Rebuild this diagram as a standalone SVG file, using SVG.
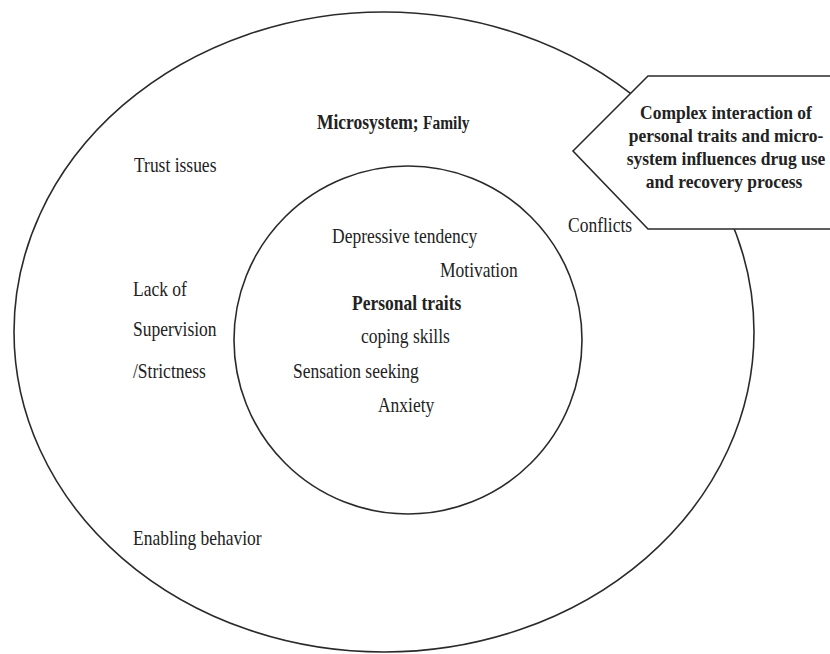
<svg xmlns="http://www.w3.org/2000/svg" width="830" height="654" viewBox="0 0 830 654">
<style>
.ln{fill:none;stroke:#2a2a2a;stroke-width:1.6}
.t{font-family:"Liberation Serif","Times New Roman",serif;font-size:17.5px;fill:#222}
.b{font-weight:bold}
.c{text-anchor:middle}
</style>
<rect width="830" height="654" fill="#fff"/>
<g id="microsystem">
<ellipse class="ln" cx="384" cy="332" rx="370" ry="320"/>
<text class="t b" x="317" y="0" transform="matrix(1 0 0 1.15 0 129)">Microsystem; <tspan font-size="15.5">Family</tspan></text>
<text class="t" x="134" y="0" transform="matrix(1 0 0 1.15 0 172)">Trust issues</text>
<text class="t" x="133" y="0" transform="matrix(1 0 0 1.15 0 296)">Lack of</text>
<text class="t" x="133" y="0" transform="matrix(1 0 0 1.15 0 336)">Supervision</text>
<text class="t" x="133" y="0" transform="matrix(1 0 0 1.15 0 378)">/Strictness</text>
<text class="t" x="133" y="0" transform="matrix(1 0 0 1.15 0 545)">Enabling behavior</text>
<text class="t" x="568" y="0" transform="matrix(1 0 0 1.15 0 232)">Conflicts</text>
</g>
<g id="personal-traits">
<circle class="ln" cx="408" cy="340" r="174"/>
<text class="t" x="332" y="0" transform="matrix(1 0 0 1.15 0 243)">Depressive tendency</text>
<text class="t" x="440" y="0" transform="matrix(1 0 0 1.15 0 277)">Motivation</text>
<text class="t b" x="352" y="0" transform="matrix(1 0 0 1.15 0 310)">Personal traits</text>
<text class="t" x="361" y="0" transform="matrix(1 0 0 1.15 0 343)">coping skills</text>
<text class="t" x="293" y="0" transform="matrix(1 0 0 1.15 0 378)">Sensation seeking</text>
<text class="t" x="378" y="0" transform="matrix(1 0 0 1.15 0 412)">Anxiety</text>
</g>
<g id="outcome">
<polygon points="573,151 648,76 840,76 840,229 648,229" fill="#fff" stroke="#2a2a2a" stroke-width="1.6"/>
<text class="t b c" font-size="17" x="726" y="0" transform="matrix(1 0 0 1.12 0 119)">Complex interaction  of</text>
<text class="t b c" font-size="17" x="726" y="0" transform="matrix(1 0 0 1.12 0 142)">personal traits and micro-</text>
<text class="t b c" font-size="17" x="726" y="0" transform="matrix(1 0 0 1.12 0 165)">system influences drug use</text>
<text class="t b c" font-size="17" x="724" y="0" transform="matrix(1 0 0 1.12 0 188)">and recovery  process</text>
</g>
<g id="connectors"></g>
</svg>
